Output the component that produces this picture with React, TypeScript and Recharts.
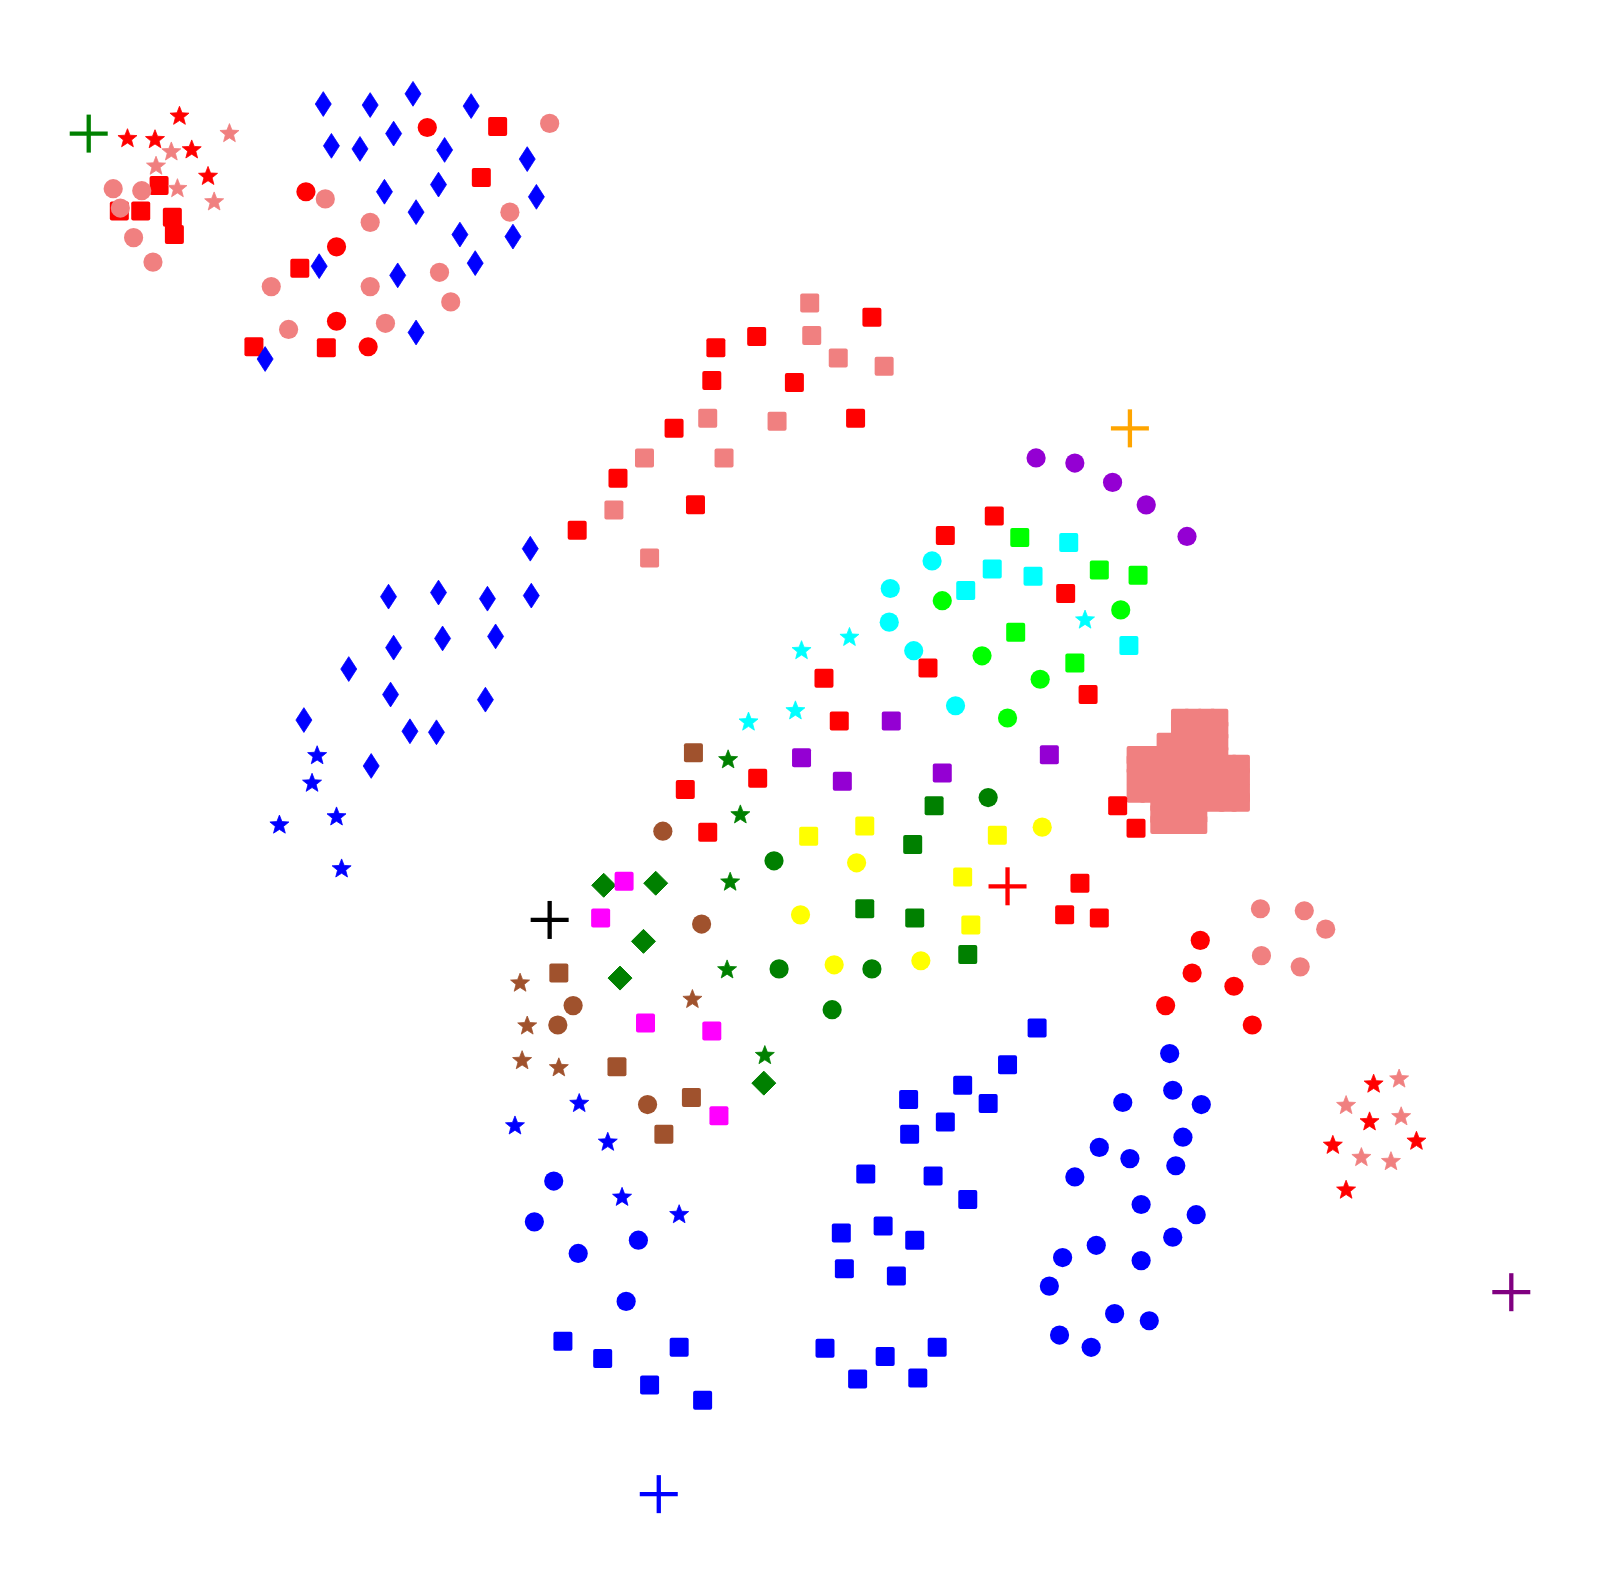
import React from 'react';
import { ScatterChart, Scatter, XAxis, YAxis } from 'recharts';

type Pt = [number, number];

// crosses
const crossGreen: Pt[] = [[87, 131]];
const crossOrange: Pt[] = [[1108, 420]];
const crossRed: Pt[] = [[988, 869]];
const crossBlack: Pt[] = [[539, 902]];
const crossBlue: Pt[] = [[646, 1465]];
const crossPurple: Pt[] = [[1482, 1267]];

// top-left group
const redStarsA: Pt[] = [[176, 113], [125, 135], [152, 136], [188, 146], [204, 172]];
const pinkStarsA: Pt[] = [[225, 130], [168, 148], [153, 162], [174, 184], [210, 197]];
const redSquaresA: Pt[] = [[156, 182], [117, 207], [138, 207], [169, 213], [171, 230]];
const pinkCirclesA: Pt[] = [[111, 185], [139, 187], [118, 204], [131, 233], [150, 257]];

// top group
const redSquaresB: Pt[] = [[488, 124], [472, 174], [294, 263], [249, 340], [320, 341]];
const redCirclesB: Pt[] = [[419, 125], [300, 188], [330, 242], [330, 315], [361, 340]];
const pinkCirclesB: Pt[] = [
  [539, 121], [319, 195], [363, 218], [500, 208], [266, 281],
  [363, 281], [431, 267], [442, 296], [283, 323], [378, 317],
];
const blueDiamondsB: Pt[] = [
  [317, 102], [363, 103], [405, 92], [462, 104], [325, 143],
  [353, 146], [386, 131], [436, 147], [517, 156], [377, 188],
  [430, 181], [526, 193], [408, 208], [451, 230], [503, 232],
  [466, 258], [313, 261], [390, 270], [408, 326], [260, 352],
];

// diagonal squares
const pinkSquaresC: Pt[] = [
  [794, 297], [796, 329], [822, 351], [867, 359], [694, 410],
  [762, 413], [710, 449], [632, 449], [602, 500], [637, 547],
];
const redSquaresC: Pt[] = [
  [855, 311], [742, 330], [702, 341], [698, 373], [779, 375],
  [839, 410], [661, 420], [606, 469], [682, 495], [566, 520],
];

// left-middle
const blueDiamondsD: Pt[] = [
  [520, 538], [381, 585], [430, 581], [478, 587], [521, 584],
  [386, 635], [434, 626], [486, 624], [342, 656], [383, 681],
  [476, 686], [298, 706], [402, 717], [428, 718], [364, 751],
];
const blueStarsD: Pt[] = [[311, 740], [306, 767], [274, 808], [330, 800], [335, 851]];

// centre
const purpleCircles: Pt[] = [[1016, 449], [1054, 454], [1091, 473], [1124, 495], [1164, 526]];
const redSquaresE: Pt[] = [
  [975, 506], [927, 525], [1045, 582], [910, 655], [808, 665],
  [1067, 681], [823, 707], [743, 763], [672, 774], [694, 816],
  [1096, 790], [1114, 812], [1059, 866], [1044, 897], [1078, 900],
];
const limeSquares: Pt[] = [[1000, 527], [1078, 559], [1116, 564], [996, 620], [1054, 650]];
const limeCircles: Pt[] = [[924, 589], [1099, 598], [963, 643], [1020, 666], [988, 704]];
const cyanSquares: Pt[] = [[1048, 532], [973, 558], [1013, 565], [947, 579], [1107, 633]];
const cyanCircles: Pt[] = [[914, 550], [873, 577], [872, 610], [896, 638], [937, 692]];
const cyanStars: Pt[] = [[1064, 607], [833, 624], [786, 637], [780, 696], [734, 707]];
const violetSquares: Pt[] = [[874, 707], [786, 743], [826, 766], [924, 758], [1029, 740]];
const brownSquares: Pt[] = [[680, 738], [548, 954], [605, 1046], [678, 1076], [651, 1112]];
const brownCircles: Pt[] = [[650, 815], [688, 906], [562, 986], [547, 1005], [635, 1083]];
const brownStars: Pt[] = [[510, 963], [517, 1005], [512, 1039], [548, 1046], [679, 979]];
const greenStars: Pt[] = [[714, 744], [726, 798], [716, 864], [713, 950], [750, 1034]];
const greenDiamonds: Pt[] = [[592, 868], [643, 866], [631, 923], [608, 959], [749, 1062]];
const magentaSquares: Pt[] = [[612, 864], [589, 900], [633, 1003], [698, 1011], [705, 1094]];
const darkGreenSquares: Pt[] = [[916, 790], [895, 828], [848, 891], [897, 900], [949, 936]];
const darkGreenCircles: Pt[] = [[969, 782], [759, 844], [764, 950], [855, 950], [816, 990]];
const yellowSquares: Pt[] = [[793, 820], [848, 810], [978, 819], [944, 860], [952, 907]];
const yellowCircles: Pt[] = [[1022, 811], [840, 846], [785, 897], [818, 946], [903, 942]];

// dense pink cluster (overlapping squares)
const pinkBlob: Pt[] = [
  [1157.6, 704.3], [1170, 704.3], [1183, 704.3], [1195.2, 704.3],
  [1157.6, 716], [1170, 716], [1183, 716], [1195.2, 716],
  [1143.5, 727.8], [1157.6, 727.8], [1170, 727.8], [1183, 727.8], [1195.2, 727.8],
  [1114.1, 740.8], [1127, 740.8], [1140, 740.8], [1153, 740.8], [1166, 740.8], [1179, 740.8], [1195.2, 740.8],
  [1114.1, 749.3], [1127, 749.3], [1140, 749.3], [1153, 749.3], [1166, 749.3], [1179, 749.3], [1192, 749.3], [1204, 749.3], [1216.4, 749.3],
  [1114.1, 762], [1127, 762], [1140, 762], [1153, 762], [1166, 762], [1179, 762], [1192, 762], [1204, 762], [1216.4, 762],
  [1114.1, 777.7], [1127, 777.7], [1140, 777.7], [1153, 777.7], [1166, 777.7], [1179, 777.7], [1192, 777.7], [1204, 777.7], [1216.4, 777.7],
  [1137.3, 786.7], [1150, 786.7], [1163, 786.7], [1176, 786.7], [1192, 786.7], [1204, 786.7], [1216.4, 786.7],
  [1137.3, 798], [1150, 798], [1163, 798], [1174.6, 798],
  [1137.3, 808.5], [1150, 808.5], [1163, 808.5], [1174.6, 808.5],
];

// lower groups
const blueStarsLow: Pt[] = [[568, 1081], [505, 1103], [596, 1119], [610, 1173], [666, 1190]];
const blueCirclesLow: Pt[] = [[543, 1158], [524, 1198], [567, 1229], [626, 1216], [614, 1276]];
const blueSquaresLow: Pt[] = [[552, 1315], [591, 1332], [666, 1321], [637, 1358], [689, 1373]];
const blueSquaresMid: Pt[] = [
  [1017, 1008], [988, 1044], [944, 1064], [891, 1078], [969, 1082],
  [927, 1100], [892, 1112], [849, 1151], [915, 1153], [949, 1176],
  [825, 1209], [866, 1202], [897, 1216], [828, 1244], [879, 1251],
  [809, 1322], [868, 1330], [919, 1321], [841, 1352], [900, 1351],
];
const blueCirclesRight: Pt[] = [
  [1147, 1033], [1150, 1069], [1178, 1083], [1101, 1081], [1160, 1115],
  [1078, 1125], [1108, 1136], [1153, 1143], [1054, 1154], [1119, 1181],
  [1173, 1191], [1150, 1213], [1075, 1221], [1042, 1233], [1119, 1236],
  [1029, 1261], [1093, 1288], [1127, 1295], [1039, 1309], [1070, 1321],
];
const redCirclesRight: Pt[] = [[1177, 922], [1169, 954], [1210, 967], [1143, 986], [1228, 1005]];
const pinkCirclesRight: Pt[] = [[1236, 891], [1279, 893], [1300, 911], [1237, 937], [1275, 948]];
const redStarsRight: Pt[] = [[1347, 1062], [1343, 1099], [1307, 1122], [1389, 1118], [1320, 1166]];
const pinkStarsRight: Pt[] = [[1372, 1057], [1320, 1083], [1374, 1094], [1335, 1134], [1364, 1138]];

type Kind = 'square' | 'circle' | 'diamond' | 'bigDiamond' | 'star' | 'cross';

const starPath = (cx: number, cy: number, R: number, r: number) => {
  let d = '';
  for (let i = 0; i < 10; i++) {
    const rad = i % 2 === 0 ? R : r;
    const a = -Math.PI / 2 + (i * Math.PI) / 5;
    d += (i === 0 ? 'M' : 'L') + (cx + rad * Math.cos(a)).toFixed(2) + ',' + (cy + rad * Math.sin(a)).toFixed(2);
  }
  return d + 'Z';
};

const makeShape = (kind: Kind, color: string) => (props: any) => {
  const { cx, cy } = props;
  if (cx == null || cy == null) return <g />;
  switch (kind) {
    case 'square':
      return <rect x={cx - 9.5} y={cy - 9.5} width={19} height={19} rx={2} fill={color} />;
    case 'circle':
      return <ellipse cx={cx} cy={cy} rx={9.6} ry={9.6} fill={color} />;
    case 'diamond':
      return (
        <path
          d={`M${cx},${cy - 12.4}L${cx + 8},${cy}L${cx},${cy + 12.4}L${cx - 8},${cy}Z`}
          fill={color} stroke={color} strokeWidth={0.8} strokeLinejoin="round"
        />
      );
    case 'bigDiamond':
      return (
        <path
          d={`M${cx},${cy - 12}L${cx + 12},${cy}L${cx},${cy + 12}L${cx - 12},${cy}Z`}
          fill={color} stroke={color} strokeWidth={1} strokeLinejoin="round"
        />
      );
    case 'star':
      return <path d={starPath(cx, cy + 1, 10, 4.3)} fill={color} stroke={color} strokeWidth={0.8} strokeLinejoin="round" />;
    case 'cross':
      return (
        <g stroke={color} strokeWidth={4.3}>
          <line x1={cx - 19} y1={cy} x2={cx + 19} y2={cy} />
          <line x1={cx} y1={cy - 19} x2={cx} y2={cy + 19} />
        </g>
      );
  }
  return <g />;
};

const RED = '#ff0000';
const PINK = '#f08080';
const BLUE = '#0000ff';

const series: { name: string; pts: Pt[]; kind: Kind; color: string }[] = [
  { name: 'redSquaresA', pts: redSquaresA, kind: 'square', color: RED },
  { name: 'pinkCirclesA', pts: pinkCirclesA, kind: 'circle', color: PINK },
  { name: 'redStarsA', pts: redStarsA, kind: 'star', color: RED },
  { name: 'pinkStarsA', pts: pinkStarsA, kind: 'star', color: PINK },
  { name: 'redSquaresB', pts: redSquaresB, kind: 'square', color: RED },
  { name: 'redCirclesB', pts: redCirclesB, kind: 'circle', color: RED },
  { name: 'pinkCirclesB', pts: pinkCirclesB, kind: 'circle', color: PINK },
  { name: 'blueDiamondsB', pts: blueDiamondsB, kind: 'diamond', color: BLUE },
  { name: 'pinkSquaresC', pts: pinkSquaresC, kind: 'square', color: PINK },
  { name: 'redSquaresC', pts: redSquaresC, kind: 'square', color: RED },
  { name: 'blueDiamondsD', pts: blueDiamondsD, kind: 'diamond', color: BLUE },
  { name: 'blueStarsD', pts: blueStarsD, kind: 'star', color: BLUE },
  { name: 'purpleCircles', pts: purpleCircles, kind: 'circle', color: '#9400d3' },
  { name: 'pinkBlob', pts: pinkBlob, kind: 'square', color: PINK },
  { name: 'redSquaresE', pts: redSquaresE, kind: 'square', color: RED },
  { name: 'limeSquares', pts: limeSquares, kind: 'square', color: '#00ff00' },
  { name: 'limeCircles', pts: limeCircles, kind: 'circle', color: '#00ff00' },
  { name: 'cyanSquares', pts: cyanSquares, kind: 'square', color: '#00ffff' },
  { name: 'cyanCircles', pts: cyanCircles, kind: 'circle', color: '#00ffff' },
  { name: 'cyanStars', pts: cyanStars, kind: 'star', color: '#00ffff' },
  { name: 'violetSquares', pts: violetSquares, kind: 'square', color: '#9400d3' },
  { name: 'brownSquares', pts: brownSquares, kind: 'square', color: '#a0522d' },
  { name: 'brownCircles', pts: brownCircles, kind: 'circle', color: '#a0522d' },
  { name: 'brownStars', pts: brownStars, kind: 'star', color: '#a0522d' },
  { name: 'greenStars', pts: greenStars, kind: 'star', color: '#008000' },
  { name: 'greenDiamonds', pts: greenDiamonds, kind: 'bigDiamond', color: '#008000' },
  { name: 'magentaSquares', pts: magentaSquares, kind: 'square', color: '#ff00ff' },
  { name: 'darkGreenSquares', pts: darkGreenSquares, kind: 'square', color: '#008000' },
  { name: 'darkGreenCircles', pts: darkGreenCircles, kind: 'circle', color: '#008000' },
  { name: 'yellowSquares', pts: yellowSquares, kind: 'square', color: '#ffff00' },
  { name: 'yellowCircles', pts: yellowCircles, kind: 'circle', color: '#ffff00' },
  { name: 'blueStarsLow', pts: blueStarsLow, kind: 'star', color: BLUE },
  { name: 'blueCirclesLow', pts: blueCirclesLow, kind: 'circle', color: BLUE },
  { name: 'blueSquaresLow', pts: blueSquaresLow, kind: 'square', color: BLUE },
  { name: 'blueSquaresMid', pts: blueSquaresMid, kind: 'square', color: BLUE },
  { name: 'blueCirclesRight', pts: blueCirclesRight, kind: 'circle', color: BLUE },
  { name: 'redCirclesRight', pts: redCirclesRight, kind: 'circle', color: RED },
  { name: 'pinkCirclesRight', pts: pinkCirclesRight, kind: 'circle', color: PINK },
  { name: 'redStarsRight', pts: redStarsRight, kind: 'star', color: RED },
  { name: 'pinkStarsRight', pts: pinkStarsRight, kind: 'star', color: PINK },
  { name: 'crossGreen', pts: crossGreen, kind: 'cross', color: '#008000' },
  { name: 'crossOrange', pts: crossOrange, kind: 'cross', color: '#ffa500' },
  { name: 'crossRed', pts: crossRed, kind: 'cross', color: RED },
  { name: 'crossBlack', pts: crossBlack, kind: 'cross', color: '#000000' },
  { name: 'crossBlue', pts: crossBlue, kind: 'cross', color: BLUE },
  { name: 'crossPurple', pts: crossPurple, kind: 'cross', color: '#800080' },
];

const toData = (pts: Pt[]) => pts.map(([x, y]) => ({ x, y }));

export default function App() {
  return (
    <div style={{ position: 'absolute', left: 0, top: 0, width: 1599, height: 1589, background: '#fff' }}>
      <ScatterChart width={1599} height={1589} margin={{ top: 0, right: 0, bottom: 0, left: 0 }}>
        <XAxis type="number" dataKey="x" domain={[0, 1568]} hide allowDataOverflow />
        <YAxis type="number" dataKey="y" domain={[0, 1558]} reversed hide allowDataOverflow />
        {series.map((s) => (
          <Scatter
            key={s.name}
            name={s.name}
            data={toData(s.pts)}
            fill={s.color}
            shape={makeShape(s.kind, s.color)}
            isAnimationActive={false}
          />
        ))}
      </ScatterChart>
    </div>
  );
}
